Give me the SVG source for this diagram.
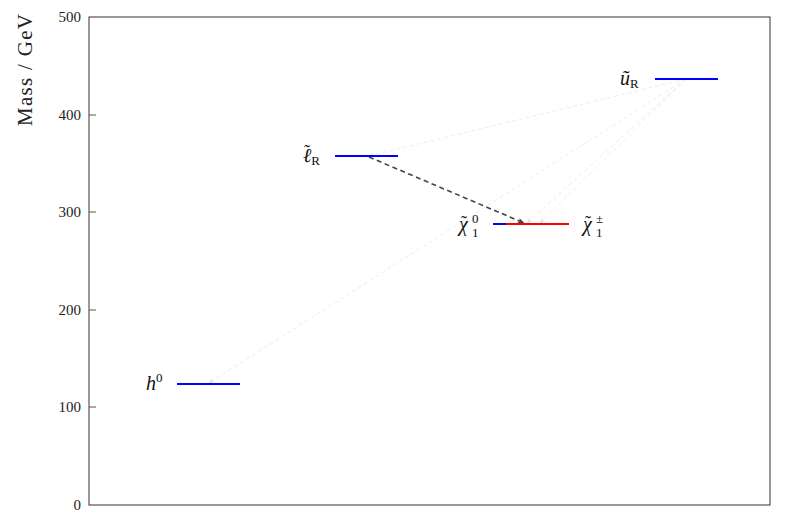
<svg xmlns="http://www.w3.org/2000/svg" width="789" height="521" viewBox="0 0 789 521">
<style>
.ax{font-family:"Liberation Serif","DejaVu Serif",serif;font-size:15px;fill:#222}
.lab{font-family:"Liberation Serif","DejaVu Serif",serif;font-size:20px;fill:#111}
.it{font-style:italic}
.sm{font-size:13px;font-style:normal}
.tl{font-size:18px;font-style:normal}
.lvl{stroke-width:2;fill:none}
.faint{stroke:#ededed;stroke-width:1;stroke-dasharray:4 3;fill:none}
</style>
<defs>
<marker id="ah" viewBox="0 0 10 10" refX="9" refY="5" markerWidth="7" markerHeight="7" orient="auto" markerUnits="userSpaceOnUse">
<path d="M0,1 L10,5 L0,9 L3,5 z" fill="#444"/>
</marker>
<marker id="fh" viewBox="0 0 10 10" refX="9" refY="5" markerWidth="6" markerHeight="6" orient="auto" markerUnits="userSpaceOnUse">
<path d="M0,1 L10,5 L0,9 L3,5 z" fill="#e2e2e2"/>
</marker>
</defs>
<rect width="789" height="521" fill="#fff"/>
<g id="axes">
<rect x="89" y="17" width="681" height="488" fill="none" stroke="#333" stroke-width="1"/>
<g stroke="#555" stroke-width="1">
<line x1="89" y1="115" x2="96" y2="115"/>
<line x1="89" y1="212" x2="96" y2="212"/>
<line x1="89" y1="310" x2="96" y2="310"/>
<line x1="89" y1="407" x2="96" y2="407"/>
</g>
<g class="ax" text-anchor="end">
<text x="81" y="22">500</text>
<text x="81" y="120">400</text>
<text x="81" y="217">300</text>
<text x="81" y="315">200</text>
<text x="81" y="412">100</text>
<text x="81" y="510">0</text>
</g>
<text class="ax" style="font-size:21px" transform="translate(32,70) rotate(-90)" text-anchor="middle" textLength="112" lengthAdjust="spacing">Mass / GeV</text>
</g>
<g id="connectors">
<line class="faint" x1="686" y1="79" x2="369" y2="156" marker-end="url(#fh)"/>
<line class="faint" x1="686" y1="79" x2="527" y2="223" marker-end="url(#fh)"/>
<line class="faint" x1="686" y1="79" x2="540" y2="223" marker-end="url(#fh)"/>
<line class="faint" x1="686" y1="79" x2="209" y2="383" marker-end="url(#fh)"/>
<line x1="369" y1="157" x2="524" y2="223" stroke="#444" stroke-width="1.6" stroke-dasharray="5 3.5" marker-end="url(#ah)"/>
</g>
<g id="h0">
<line class="lvl" x1="177" y1="384" x2="240" y2="384" stroke="#0000ff"/>
<text class="lab" x="146" y="390"><tspan class="it">h</tspan><tspan class="sm" dy="-8">0</tspan></text>
</g>
<g id="lR">
<line class="lvl" x1="335" y1="156" x2="398" y2="156" stroke="#0000ff"/>
<text class="lab" x="303" y="162"><tspan class="it">ℓ</tspan><tspan class="sm" dy="3">R</tspan><tspan class="tl" x="304" y="158">˜</tspan></text>
</g>
<g id="chi0">
<line class="lvl" x1="493" y1="224" x2="556" y2="224" stroke="#0000ff"/>
<text class="lab" x="459" y="231"><tspan class="it">χ</tspan><tspan class="sm" x="472" dy="-8">0</tspan><tspan class="sm" x="472" dy="14">1</tspan><tspan class="tl" x="461" y="229">˜</tspan></text>
</g>
<g id="chipm">
<line class="lvl" x1="506" y1="224" x2="569" y2="224" stroke="#ff0000"/>
<text class="lab" x="583" y="231"><tspan class="it">χ</tspan><tspan class="sm" x="596" dy="-8">±</tspan><tspan class="sm" x="596" dy="14">1</tspan><tspan class="tl" x="585" y="229">˜</tspan></text>
</g>
<g id="uR">
<line class="lvl" x1="655" y1="79" x2="718" y2="79" stroke="#0000ff"/>
<text class="lab" x="620" y="85"><tspan class="it">ũ</tspan><tspan class="sm" dy="3">R</tspan></text>
</g>
</svg>
